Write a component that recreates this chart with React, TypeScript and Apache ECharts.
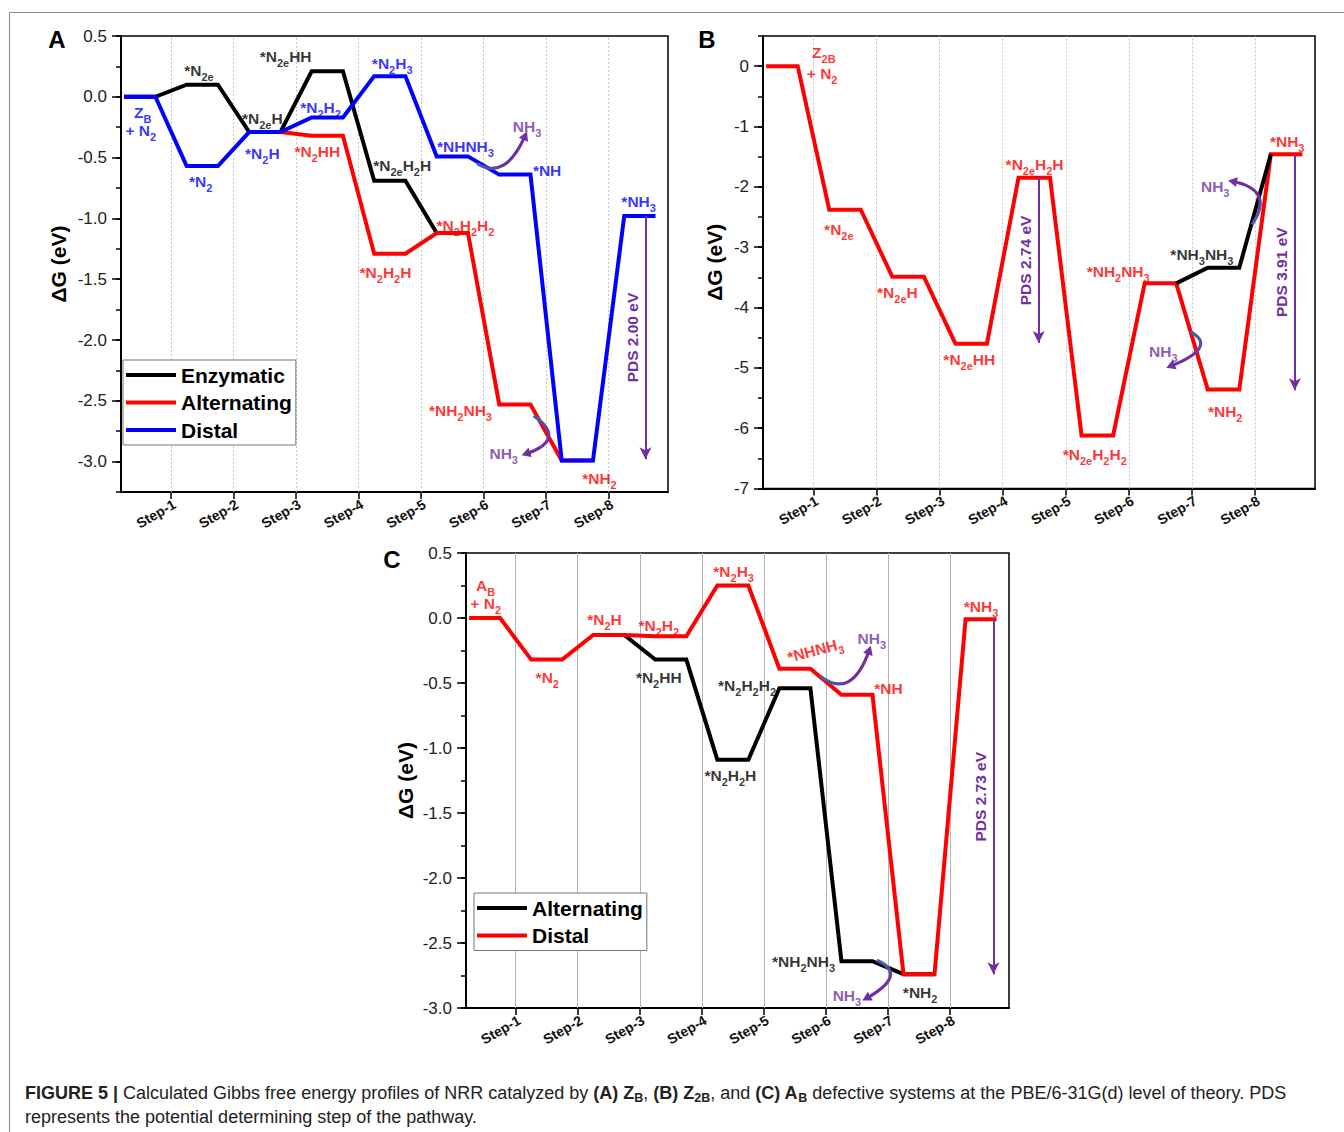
import React, { useEffect, useRef } from 'react';
import * as echarts from 'echarts';

const FONT = "'Liberation Sans', Arial, Helvetica, sans-serif";
const RED = '#ff0000';
const BLUE = '#0000ff';
const BLACK = '#000000';
const PURPLE = '#7030a0';

// ---------- shared x axis ----------
const STEP_TICKS = [1, 2, 3, 4, 5, 6, 7, 8];
const STEP_PREFIX = 'Step-';
const X_MIN = 0.2;
const X_MAX = 8.95;

// ---------- Panel A : Z_B ----------
const A_Y_MAJOR = [-3.0, -2.5, -2.0, -1.5, -1.0, -0.5, 0.0, 0.5];
const A_ENZYMATIC = [0, 0.1, -0.29, 0.21, -0.69, -1.12, null, null, null];
const A_ALTERNATING = [null, null, -0.29, -0.32, -1.29, -1.12, -2.53, -2.99, null];
const A_DISTAL = [0, -0.57, -0.29, -0.17, 0.17, -0.49, -0.64, -2.99, -0.98];
const A_PDS = [{ x: 8.59, from: -0.98, gap: 2.0 }];
const A_ARROWS = [
  [5.897, -0.549, 6.351, -0.693, 6.669, -0.315],
  [6.801, -2.622, 7.346, -2.821, 6.669, -2.937],
];
const A_LABELS: any[] = [
  ['Z_{B}', 0.548, -0.125, BLUE],
  ['+ N_{2}', 0.516, -0.278, BLUE],
  ['*N_{2e}', 1.447, 0.22, BLACK],
  ['*N_{2}', 1.475, -0.7, BLUE],
  ['*N_{2e}H', 2.461, -0.178, BLACK],
  ['*N_{2}H', 2.461, -0.466, BLUE],
  ['*N_{2e}HH', 2.833, 0.33, BLACK],
  ['*N_{2}H_{2}', 3.393, -0.087, BLUE],
  ['*N_{2}HH', 3.34, -0.453, RED],
  ['*N_{2}H_{3}', 4.538, 0.275, BLUE],
  ['*N_{2e}H_{2}H', 4.698, -0.563, BLACK],
  ['*N_{2}H_{2}H', 4.431, -1.441, RED],
  ['*NHNH_{3}', 5.71, -0.412, BLUE],
  ['NH_{3}', 6.696, -0.247, PURPLE],
  ['*NH', 7.016, -0.604, BLUE],
  ['*N_{2}H_{2}H_{2}', 5.71, -1.057, RED],
  ['*NH_{3}', 8.48, -0.865, BLUE],
  ['*NH_{2}NH_{3}', 5.63, -2.58, RED],
  ['NH_{3}', 6.322, -2.937, PURPLE],
  ['*NH_{2}', 7.853, -3.143, RED],
];

// ---------- Panel B : Z_2B ----------
const B_Y_MAJOR = [-7, -6, -5, -4, -3, -2, -1, 0];
const B_MAIN = [0, -2.38, -3.49, -4.6, -1.85, -6.12, -3.6, -5.36, -1.46];
const B_BRANCH = [null, null, null, null, null, null, -3.6, -3.34, -1.46];
const B_PDS = [
  { x: 4.57, from: -1.85, gap: 2.74 },
  { x: 8.63, from: -1.46, gap: 3.91 },
];
const B_ARROWS = [
  [7.952, -2.625, 8.321, -2.045, 7.634, -1.907],
  [6.97, -4.395, 7.425, -4.655, 6.652, -4.975],
];
const B_LABELS: any[] = [
  ['Z_{2B}', 1.164, 0.222, RED],
  ['+ N_{2}', 1.137, -0.121, RED],
  ['*N_{2e}', 1.402, -2.708, RED],
  ['*N_{2e}H', 2.33, -3.758, RED],
  ['*N_{2e}HH', 3.47, -4.864, RED],
  ['*N_{2e}H_{2}H', 4.505, -1.63, RED],
  ['*N_{2e}H_{2}H_{2}', 5.459, -6.44, RED],
  ['*NH_{2}NH_{3}', 5.83, -3.4, RED],
  ['*NH_{3}NH_{3}', 7.157, -3.123, BLACK],
  ['NH_{3}', 7.368, -1.99, PURPLE],
  ['NH_{3}', 6.546, -4.726, PURPLE],
  ['*NH_{2}', 7.527, -5.721, RED],
  ['*NH_{3}', 8.509, -1.244, RED],
];

// ---------- Panel C : A_B ----------
const C_Y_MAJOR = [-3.0, -2.5, -2.0, -1.5, -1.0, -0.5, 0.0, 0.5];
const C_ALTERNATING = [null, null, -0.13, -0.32, -1.09, -0.54, -2.64, -2.74, null];
const C_DISTAL = [0, -0.32, -0.13, -0.14, 0.25, -0.39, -0.59, -2.74, -0.01];
const C_PDS = [{ x: 8.7, from: -0.01, gap: 2.73 }];
const C_ARROWS = [
  [5.908, -0.448, 6.423, -0.633, 6.702, -0.243],
  [6.821, -2.633, 7.337, -2.742, 6.644, -2.928],
];
const C_LABELS: any[] = [
  ['A_{B}', 0.517, 0.252, RED],
  ['+ N_{2}', 0.517, 0.111, RED],
  ['*N_{2}', 1.51, -0.454, RED],
  ['*N_{2}H', 2.432, -0.01, RED],
  ['*N_{2}H_{2}', 3.306, -0.06, RED],
  ['*N_{2}HH', 3.306, -0.454, BLACK],
  ['*N_{2}H_{3}', 4.513, 0.354, RED],
  ['*NHNH_{3}', 5.828, -0.248, RED, 15],
  ['NH_{3}', 6.74, -0.158, PURPLE],
  ['*NH', 7.008, -0.543, RED],
  ['*NH_{3}', 8.5, 0.085, RED],
  ['*N_{2}H_{2}H_{2}', 4.729, -0.518, BLACK],
  ['*N_{2}H_{2}H', 4.46, -1.21, BLACK],
  ['*NH_{2}NH_{3}', 5.64, -2.646, BLACK],
  ['NH_{3}', 6.338, -2.902, PURPLE],
  ['*NH_{2}', 7.518, -2.877, BLACK],
];

// ---------- helpers ----------
function levelPoints(levels: (number | null)[], trim = false) {
  const pts: number[][] = [];
  const idx = levels.map((v, i) => (v == null ? -1 : i)).filter((i) => i >= 0);
  idx.forEach((i, k) => {
    const v = levels[i] as number;
    const first = k === 0;
    const last = k === idx.length - 1;
    if (!(trim && first)) pts.push([i + 0.25, v]);
    if (!(trim && last)) pts.push([i + 0.75, v]);
  });
  return pts;
}

function richText(t: string) {
  let out = '';
  const re = /_\{([^}]*)\}/g;
  let last = 0;
  let m: RegExpExecArray | null;
  while ((m = re.exec(t))) {
    if (m.index > last) out += `{n|${t.slice(last, m.index)}}`;
    out += `{s|${m[1]}}`;
    last = re.lastIndex;
  }
  if (last < t.length) out += `{n|${t.slice(last)}}`;
  return out;
}

const RICH = {
  n: { fontFamily: FONT, fontSize: 15.5, fontWeight: 'bold', lineHeight: 24 },
  s: { fontFamily: FONT, fontSize: 11, fontWeight: 'bold', verticalAlign: 'bottom' },
};

function xAxisFor(gi: number) {
  return {
    type: 'value',
    gridIndex: gi,
    min: X_MIN,
    max: X_MAX,
    axisLine: { onZero: false, lineStyle: { color: '#000', width: 2 } },
    axisTick: { customValues: STEP_TICKS, length: 7, lineStyle: { color: '#000', width: 1.5 } },
    axisLabel: {
      customValues: STEP_TICKS,
      formatter: (v: number) => STEP_PREFIX + v,
      rotate: 30,
      margin: 5,
      verticalAlign: 'top',
      fontFamily: FONT,
      fontSize: 14,
      fontWeight: 'bold',
      color: '#111',
    },
    splitLine: { show: false },
  };
}

function yAxisMain(gi: number, min: number, max: number, majors: number[], digits: number, nameGap: number) {
  return {
    type: 'value',
    gridIndex: gi,
    min,
    max,
    position: 'left',
    name: 'ΔG (eV)',
    nameLocation: 'middle',
    nameGap,
    nameTextStyle: { fontFamily: FONT, fontSize: 21, fontWeight: 'bold', color: '#000' },
    axisLine: { onZero: false, lineStyle: { color: '#000', width: 2 } },
    axisTick: { customValues: majors, length: 9, lineStyle: { color: '#000', width: 1.5 } },
    axisLabel: {
      customValues: majors,
      formatter: (v: number) => v.toFixed(digits),
      margin: 14,
      fontFamily: FONT,
      fontSize: 17,
      color: '#222',
    },
    splitLine: { show: false },
  };
}

function yAxisMinor(gi: number, min: number, max: number, interval: number) {
  return {
    type: 'value',
    gridIndex: gi,
    min,
    max,
    interval,
    position: 'left',
    axisLine: { show: false, onZero: false },
    axisTick: { length: 5, lineStyle: { color: '#000', width: 1.5 } },
    axisLabel: { show: false },
    splitLine: { show: false },
  };
}

function pathSeries(name: string, gi: number, yi: number, levels: (number | null)[], color: string, trim = false) {
  return {
    type: 'line',
    name,
    xAxisIndex: gi,
    yAxisIndex: yi,
    data: levelPoints(levels, trim),
    symbol: 'none',
    showSymbol: false,
    silent: true,
    z: 3,
    color,
    itemStyle: { color },
    lineStyle: { color, width: 4, join: 'miter' },
  };
}

function gridLineSeries(gi: number, yi: number, solid: boolean) {
  return {
    type: 'line',
    xAxisIndex: gi,
    yAxisIndex: yi,
    data: [],
    z: 1,
    silent: true,
    markLine: {
      z: 1,
      silent: true,
      symbol: ['none', 'none'],
      label: { show: false },
      lineStyle: solid
        ? { color: '#b4b4b4', width: 1, type: 'solid' }
        : { color: '#c4c4c4', width: 1, type: [2, 2] },
      data: STEP_TICKS.map((v) => ({ xAxis: v })),
    },
  };
}

function pdsSeries(gi: number, yi: number, pds: { x: number; from: number; gap: number }[]) {
  return {
    type: 'line',
    xAxisIndex: gi,
    yAxisIndex: yi,
    data: [],
    z: 6,
    silent: true,
    markLine: {
      z: 6,
      silent: true,
      symbol: ['arrow', 'none'],
      symbolSize: [9, 12],
      lineStyle: { color: PURPLE, width: 2, type: 'solid' },
      emphasis: { disabled: true },
      label: {
        show: true,
        position: 'middle',
        formatter: '{b}',
        color: PURPLE,
        fontFamily: FONT,
        fontSize: 15.5,
        fontWeight: 'bold',
        distance: 5,
      },
      data: pds.map((p) => [
        { name: `PDS ${p.gap.toFixed(2)} eV`, coord: [p.x, p.from - p.gap] },
        { coord: [p.x, p.from] },
      ]),
    },
  };
}

function arrowSeries(gi: number, yi: number, arrows: number[][]) {
  return {
    type: 'custom',
    xAxisIndex: gi,
    yAxisIndex: yi,
    z: 7,
    silent: true,
    clip: false,
    data: arrows,
    encode: { x: [0, 2, 4], y: [1, 3, 5] },
    renderItem: (params: any, api: any) => {
      const p0 = api.coord([api.value(0), api.value(1)]);
      const c = api.coord([api.value(2), api.value(3)]);
      const p1 = api.coord([api.value(4), api.value(5)]);
      let dx = p1[0] - c[0];
      let dy = p1[1] - c[1];
      const len = Math.sqrt(dx * dx + dy * dy) || 1;
      dx /= len;
      dy /= len;
      const tip = [p1[0] + dx * 4, p1[1] + dy * 4];
      const base = [p1[0] - dx * 5, p1[1] - dy * 5];
      const px = -dy;
      const py = dx;
      return {
        type: 'group',
        children: [
          {
            type: 'bezierCurve',
            shape: { x1: p0[0], y1: p0[1], cpx1: c[0], cpy1: c[1], x2: p1[0], y2: p1[1] },
            style: {
              stroke: new echarts.graphic.LinearGradient(p0[0], p0[1], p1[0], p1[1], [
                { offset: 0, color: '#4a5fa8' },
                { offset: 0.45, color: PURPLE },
                { offset: 1, color: PURPLE },
              ], true),
              lineWidth: 3.2,
              fill: 'none',
            },
          },
          {
            type: 'polygon',
            shape: {
              points: [tip, [base[0] + px * 5, base[1] + py * 5], [base[0] - px * 5, base[1] - py * 5]],
            },
            style: { fill: PURPLE },
          },
        ],
      };
    },
  };
}

function labelSeries(gi: number, yi: number, labels: any[]) {
  return {
    type: 'scatter',
    xAxisIndex: gi,
    yAxisIndex: yi,
    z: 8,
    silent: true,
    symbolSize: 0,
    data: labels.map(([t, x, y, c, r]) => ({
      value: [x, y],
      label: {
        show: true,
        position: 'inside',
        formatter: richText(t),
        color: c,
        rotate: r || 0,
        rich: RICH,
      },
    })),
  };
}

function legendFor(left: number, top: number, names: string[]) {
  return {
    left,
    top,
    z: 20,
    orient: 'vertical',
    data: names,
    formatter: (n: string) => n.split(':')[1],
    icon: 'rect',
    itemWidth: 50,
    itemHeight: 4,
    itemGap: 5.5,
    selectedMode: false,
    backgroundColor: '#fff',
    borderColor: '#777',
    borderWidth: 1,
    borderRadius: 0,
    padding: [4, 4, 4, 3],
    textStyle: { fontFamily: FONT, fontSize: 21, fontWeight: 'bold', color: '#000', lineHeight: 22 },
  };
}

function buildOption() {
  const captionRich = {
    b: { fontFamily: FONT, fontSize: 18, fontWeight: 'bold', lineHeight: 22 },
    bs: { fontFamily: FONT, fontSize: 12.5, fontWeight: 'bold', verticalAlign: 'bottom' },
  };
  return {
    animation: false,
    backgroundColor: '#fff',
    grid: [
      { left: 121, top: 36, width: 547, height: 456, show: true, borderColor: '#000', borderWidth: 1.5, backgroundColor: '#fff' },
      { left: 763, top: 36, width: 552, height: 452.5, show: true, borderColor: '#000', borderWidth: 1.5, backgroundColor: '#fff' },
      { left: 466, top: 553, width: 543, height: 455, show: true, borderColor: '#000', borderWidth: 1.5, backgroundColor: '#fff' },
    ],
    xAxis: [xAxisFor(0), xAxisFor(1), xAxisFor(2)],
    yAxis: [
      yAxisMain(0, -3.25, 0.5, A_Y_MAJOR, 1, 52),
      yAxisMinor(0, -3.25, 0.5, 0.25),
      yAxisMain(1, -7, 0.5, B_Y_MAJOR, 0, 38),
      yAxisMinor(1, -7, 0.5, 0.5),
      yAxisMain(2, -3, 0.5, C_Y_MAJOR, 1, 50),
      yAxisMinor(2, -3, 0.5, 0.25),
    ],
    legend: [
      legendFor(123, 360, ['A:Enzymatic', 'A:Alternating', 'A:Distal']),
      legendFor(474, 893, ['C:Alternating', 'C:Distal']),
    ],
    series: [
      // Panel A
      gridLineSeries(0, 0, false),
      pathSeries('A:Enzymatic', 0, 0, A_ENZYMATIC, BLACK),
      pathSeries('A:Alternating', 0, 0, A_ALTERNATING, RED),
      pathSeries('A:Distal', 0, 0, A_DISTAL, BLUE),
      pdsSeries(0, 0, A_PDS),
      arrowSeries(0, 0, A_ARROWS),
      labelSeries(0, 0, A_LABELS),
      // Panel B
      gridLineSeries(1, 2, false),
      pathSeries('B:main', 1, 2, B_MAIN, RED),
      pathSeries('B:branch', 1, 2, B_BRANCH, BLACK, true),
      pdsSeries(1, 2, B_PDS),
      arrowSeries(1, 2, B_ARROWS),
      labelSeries(1, 2, B_LABELS),
      // Panel C
      gridLineSeries(2, 4, true),
      pathSeries('C:Alternating', 2, 4, C_ALTERNATING, BLACK),
      pathSeries('C:Distal', 2, 4, C_DISTAL, RED),
      pdsSeries(2, 4, C_PDS),
      arrowSeries(2, 4, C_ARROWS),
      labelSeries(2, 4, C_LABELS),
    ],
    graphic: {
      elements: [
        {
          type: 'polyline',
          shape: { points: [[9.5, 1132], [9.5, 12.5], [1344, 12.5]] },
          style: { stroke: '#8a8a8a', lineWidth: 1, fill: 'none' },
          silent: true,
        },
        {
          type: 'text', x: 57, y: 39,
          style: { text: 'A', fontFamily: FONT, fontSize: 24, fontWeight: 'bold', fill: '#000', align: 'center', verticalAlign: 'middle', textAlign: 'center', textVerticalAlign: 'middle' },
        },
        {
          type: 'text', x: 707, y: 39,
          style: { text: 'B', fontFamily: FONT, fontSize: 24, fontWeight: 'bold', fill: '#000', align: 'center', verticalAlign: 'middle', textAlign: 'center', textVerticalAlign: 'middle' },
        },
        {
          type: 'text', x: 392, y: 559,
          style: { text: 'C', fontFamily: FONT, fontSize: 24, fontWeight: 'bold', fill: '#000', align: 'center', verticalAlign: 'middle', textAlign: 'center', textVerticalAlign: 'middle' },
        },
        {
          type: 'text', x: 25, y: 1093,
          style: {
            text: '{b|FIGURE 5 |} Calculated Gibbs free energy profiles of NRR catalyzed by {b|(A) Z}{bs|B}, {b|(B) Z}{bs|2B}, and {b|(C) A}{bs|B} defective systems at the PBE/6-31G(d) level of theory. PDS',
            rich: captionRich,
            fontFamily: FONT, fontSize: 18, fill: '#222', lineHeight: 22,
            verticalAlign: 'middle', textVerticalAlign: 'middle',
          },
        },
        {
          type: 'text', x: 25, y: 1117,
          style: {
            text: 'represents the potential determining step of the pathway.',
            fontFamily: FONT, fontSize: 18, fill: '#222',
            verticalAlign: 'middle', textVerticalAlign: 'middle',
          },
        },
      ],
    },
  };
}

export default function App() {
  const ref = useRef<HTMLDivElement>(null);
  useEffect(() => {
    if (!ref.current) return;
    const chart = echarts.init(ref.current, null, { renderer: 'svg' });
    chart.setOption(buildOption() as any);
    return () => chart.dispose();
  }, []);
  return (
    <div
      ref={ref}
      style={{ position: 'absolute', left: 0, top: 0, width: 1344, height: 1132, background: '#fff' }}
    />
  );
}
